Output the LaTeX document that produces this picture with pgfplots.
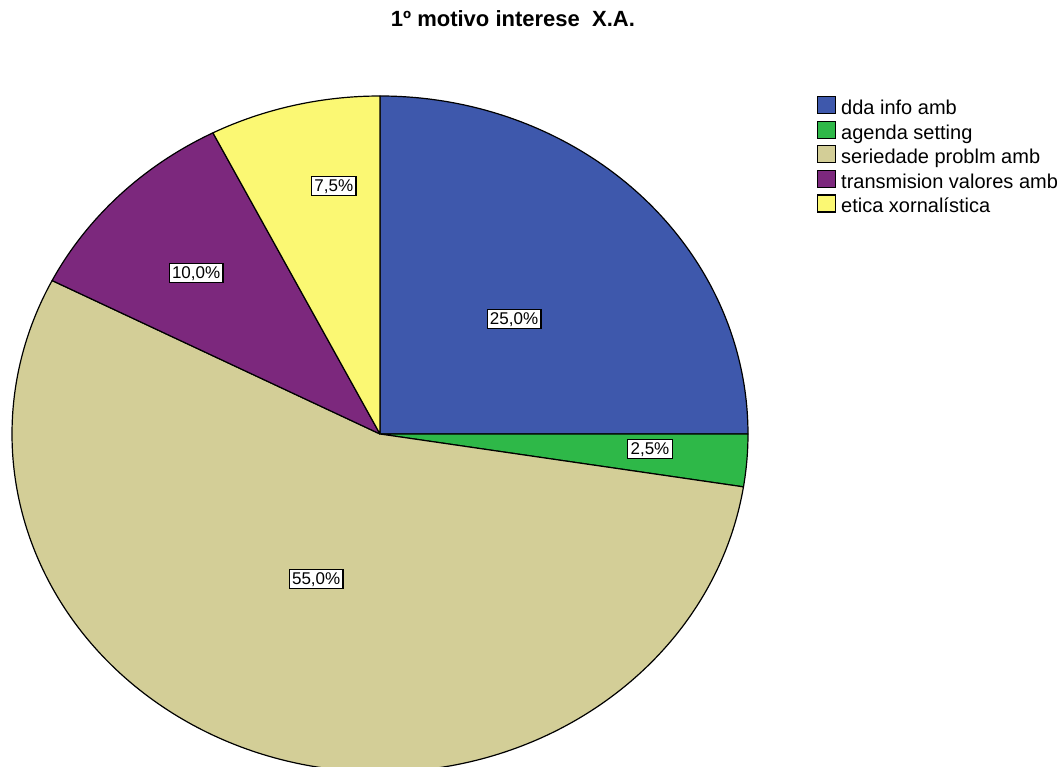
\documentclass[border=0pt]{standalone}
\usepackage{pgfplots}
\usepackage{pgfplotstable}
\pgfplotsset{compat=1.18}
\usepackage{fontspec}
\setmainfont{Liberation Sans}

\definecolor{cblue}{HTML}{3E58AC}
\definecolor{cgreen}{HTML}{2EB848}
\definecolor{ctan}{HTML}{D3CE97}
\definecolor{cpurple}{HTML}{7C287D}
\definecolor{cyellow}{HTML}{FBF873}

% value = percent; lang/lrad = where the value box sits
\pgfplotstableread{
name value col lang lrad
{dda info amb} 25 cblue 43 0.498
{agenda setting} 2.5 cgreen -3.5 0.735
{seriedade problm amb} 55 ctan -112 0.463
{transmision valores amb} 10 cpurple 136.4 0.69
{etica xornalística} 7.5 cyellow 99.7 0.745
}\piedata
\pgfplotstablegetrowsof{\piedata}
\pgfmathtruncatemacro\nrows{\pgfplotsretval-1}

\begin{document}
\begin{tikzpicture}
\begin{axis}[
    scale only axis,
    width=531pt, height=383.5pt,
    xmin=0, xmax=1062, ymin=0, ymax=767,
    hide axis,
    /pgf/number format/assume math mode=true,
    title={\bfseries 1º motivo interese\ \ X.A.},
    title style={at={(0.483,0.9596)}, anchor=center, font=\fontsize{11}{13}\selectfont, inner sep=0pt},
    legend image code/.code={\draw[#1] (0pt,-1.5pt) rectangle (9pt,7pt); \path (11.5pt,0pt);},
    legend cell align=left,
    legend style={at={(axis cs:817,671)}, anchor=north west, draw=none, fill=none,
      inner sep=0pt, outer sep=0pt, row sep=0pt, column sep=0pt,
      font=\fontsize{10}{12}\selectfont,
      nodes={inner xsep=0pt, inner ysep=0pt, text height=7pt, text depth=3pt}},
]
\def\startang{90}
\pgfplotsforeachungrouped \i in {0,...,\nrows}{%
  \pgfplotstablegetelem{\i}{value}\of\piedata \let\v\pgfplotsretval
  \pgfplotstablegetelem{\i}{col}\of\piedata \let\c\pgfplotsretval
  \pgfplotstablegetelem{\i}{name}\of\piedata \let\n\pgfplotsretval
  \pgfplotstablegetelem{\i}{lang}\of\piedata \let\la\pgfplotsretval
  \pgfplotstablegetelem{\i}{lrad}\of\piedata \let\lr\pgfplotsretval
  \pgfmathsetmacro\endang{\startang-3.6*\v}
  \pgfmathsetmacro\lx{380+\lr*368*cos(\la)}
  \pgfmathsetmacro\ly{333+\lr*338*sin(\la)}
  \edef\cmd{%
    \noexpand\addlegendimage{fill=\c, draw=black, line width=0.6pt}
    \noexpand\addlegendentry{\n}
    \noexpand\filldraw[fill=\c, draw=black, line width=0.6pt, line join=round]
      (axis cs:380,333) -- ++(\startang:184pt and 169pt)
      arc[start angle=\startang, end angle=\endang, x radius=184pt, y radius=169pt] -- cycle;
    \noexpand\node[draw=black, fill=white, line width=0.6pt, inner xsep=1.4pt, inner ysep=1.2pt,
      text height=6.3pt, text depth=0.9pt, font=\noexpand\fontsize{8.5}{10}\noexpand\selectfont]
      at (axis cs:\lx,\ly)
      {\noexpand\pgfmathprintnumber[fixed,fixed zerofill,precision=1,use comma]{\v}\noexpand\%};
  }%
  \cmd
  \let\startang\endang
}
\coordinate (bl) at (rel axis cs:0,0);
\coordinate (tr) at (rel axis cs:1,1);
\end{axis}
\pgfresetboundingbox
\path[use as bounding box] (bl) rectangle (tr);
\end{tikzpicture}
\end{document}
